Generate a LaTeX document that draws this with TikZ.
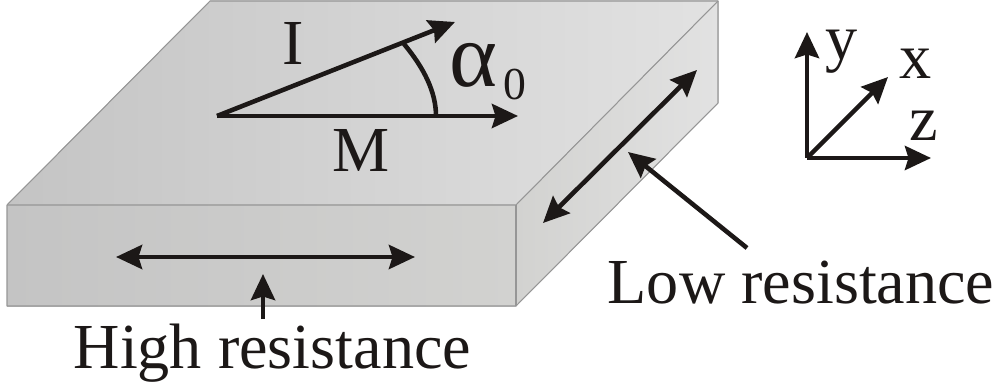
\documentclass[tikz,border=0pt]{standalone}
\usepackage{fontspec}
\setmainfont{Liberation Serif}
\usetikzlibrary{arrows.meta, positioning, calc}
\definecolor{ink}{RGB}{28, 24, 23}
\definecolor{edge}{RGB}{150, 150, 150}
\definecolor{grayA}{RGB}{196, 196, 196}
\definecolor{grayB}{RGB}{210, 210, 208}
\definecolor{grayC}{RGB}{226, 226, 226}
\tikzset{
    face/.style={draw=edge, line width=0.3pt, line join=round},
    arrow/.style={-{Stealth[length=0.26cm, width=0.24cm, inset=0.035cm]}, line width=1.3pt, color=ink},
    twoway/.style={{Stealth[length=0.26cm, width=0.24cm, inset=0.035cm]}-{Stealth[length=0.26cm, width=0.24cm, inset=0.035cm]}, line width=1.3pt, color=ink},
    anno/.style={font=\fontsize{18.25pt}{20pt}\selectfont, text=ink, inner sep=0pt, anchor=base west}
}

\begin{document}
\begin{tikzpicture}[x=0.01cm, y=-0.01cm]
    \useasboundingbox (0,0) rectangle (1000,385);

    % Slab faces
    \fill[left color=grayA, right color=grayC] (7,205) -- (210,1) -- (718,1) -- (516,205) -- cycle;
    \fill[left color=grayA, right color=grayB] (7,205) rectangle (516,306);
    \fill[left color=grayB, right color=grayC] (516,205) -- (718,1) -- (718,103) -- (516,306) -- cycle;
    \draw[face] (7,205) -- (210,1) -- (718,1) -- (718,103) -- (516,306) -- (7,306) -- cycle;
    \draw[face] (7,205) -- (516,205) -- (718,1);
    \draw[face] (516,205) -- (516,306);

    % Vectors on top face
    \coordinate (orig) at (217,116);
    \coordinate (itip) at (455,22);
    \coordinate (mtip) at (518,116);
    \coordinate (arcs) at (404,44);
    \coordinate (arce) at (436,116);
    \draw[arrow] (orig) -- (itip);
    \draw[arrow] (orig) -- (mtip);
    \draw[ink, line width=1.3pt] (arcs) .. controls (424,68) and (436,92) .. (arce);
    \node[anno] (ilabel) at (282,65) {I};
    \node[anno] (mlabel) at (332,172) {M};
    \node[anno, font=\fontsize{26pt}{28pt}\selectfont] (alabel) at (449,87) {α};
    \node[anno, font=\fontsize{13pt}{14pt}\selectfont] (azero) at (503,100) {0};

    % Resistance arrows
    \coordinate (hleft) at (116,257);
    \coordinate (hright) at (415,257);
    \coordinate (lleft) at (543,223);
    \coordinate (lright) at (697,70);
    \coordinate (hfoot) at (263,319);
    \coordinate (htip) at (263,274);
    \coordinate (lfoot) at (747,248);
    \coordinate (ltip) at (628,152);
    \draw[twoway] (hleft) -- (hright);
    \draw[twoway] (lleft) -- (lright);
    \draw[arrow] (hfoot) -- (htip);
    \draw[arrow] (lfoot) -- (ltip);
    \node[anno] (high) at (73,368) {High resistance};
    \node[anno] (low) at (607,303) {Low resistance};

    % Axes
    \coordinate (axo) at (807,158);
    \coordinate (ytip) at (807,32);
    \coordinate (xtip) at (888,77);
    \coordinate (ztip) at (931,158);
    \draw[arrow] (axo) -- (ytip);
    \draw[arrow] (axo) -- (xtip);
    \draw[arrow] (axo) -- (ztip);
    \node[anno] (ylabel) at (825,60) {y};
    \node[anno] (xlabel) at (899,79) {x};
    \node[anno] (zlabel) at (909,141) {z};
\end{tikzpicture}
\end{document}
